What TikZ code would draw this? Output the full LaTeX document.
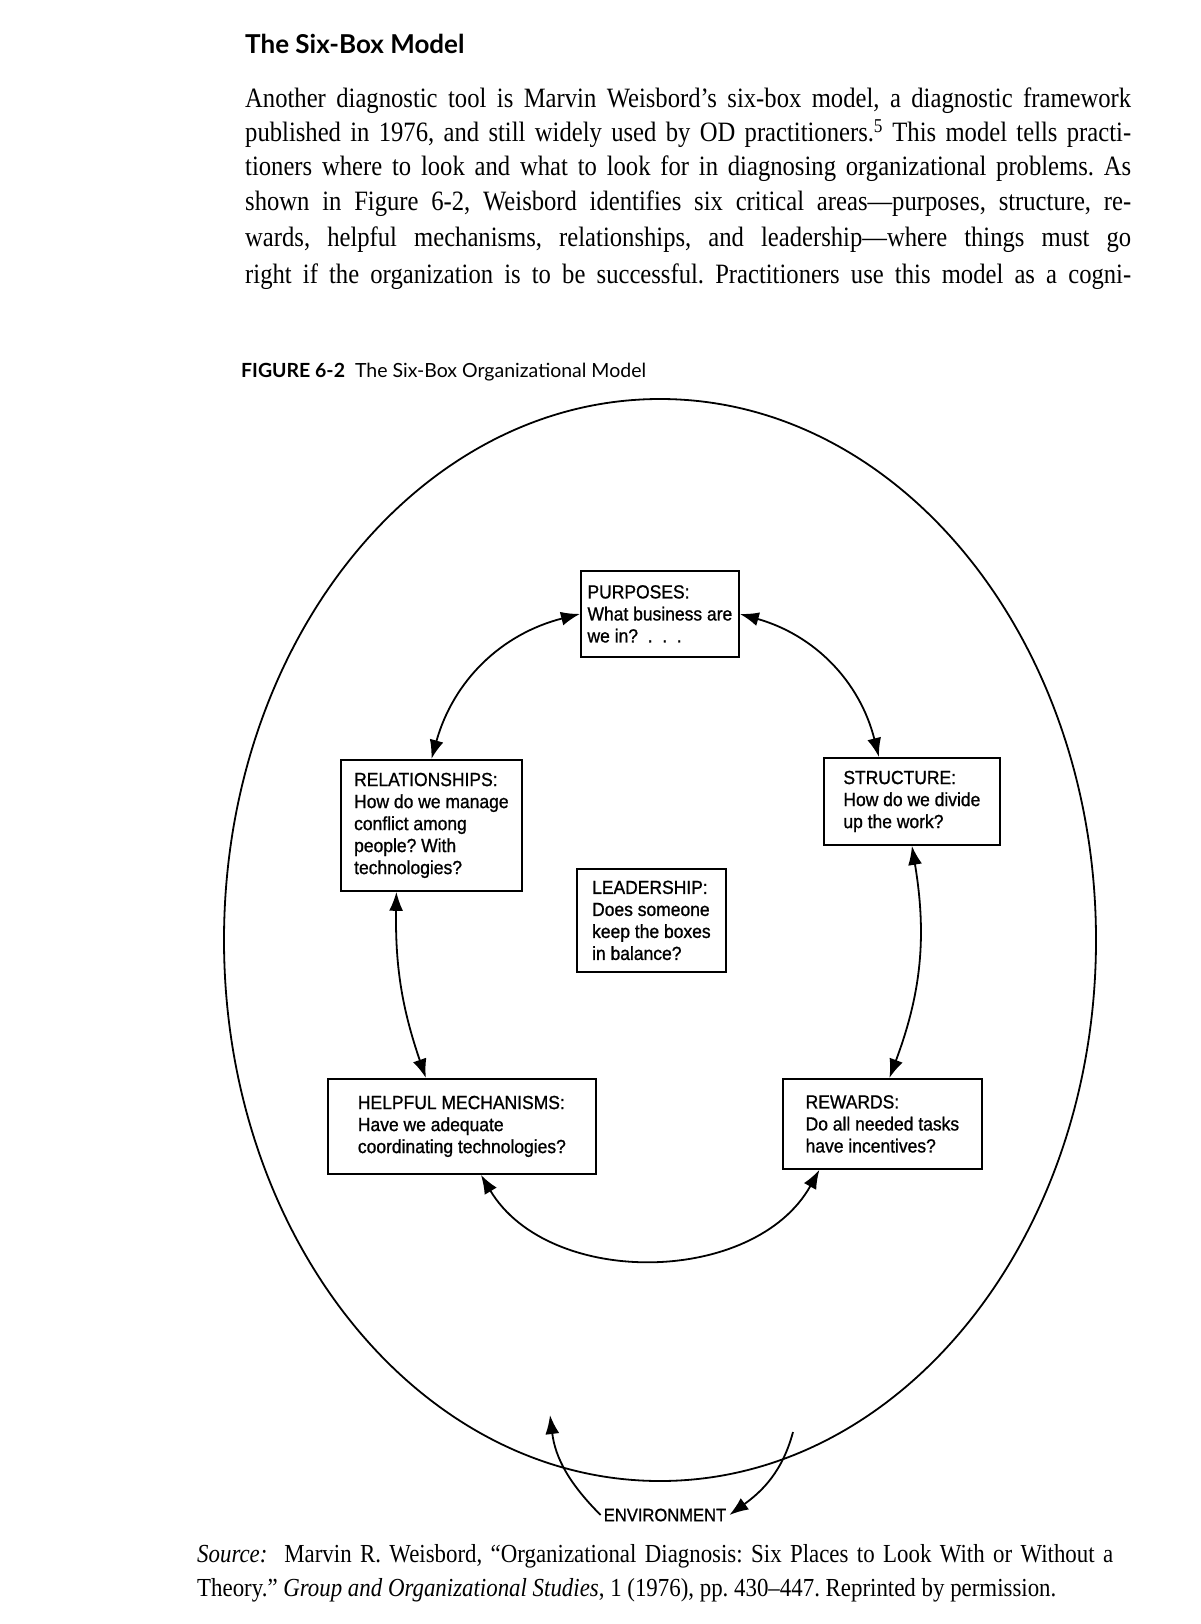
\documentclass[tikz,border=0pt]{standalone}
\usepackage{fontspec}
\setmainfont{Liberation Serif}[FakeStretch=0.88]
\newfontfamily\boxfont{Liberation Sans}[FakeStretch=0.92, FakeBold=1]
\newfontfamily\headfont{Lato}
\usetikzlibrary{arrows.meta}

\newcommand{\bodywidth}{886pt}
\frenchspacing

\tikzset{
  sixbox/.style={draw, line width=1.8pt, anchor=north west, align=left,
    inner sep=0pt, font={\boxfont\fontsize{19}{22}\selectfont}},
  bodyline/.style={anchor=base west, inner sep=0pt,
    font={\fontsize{28}{32}\selectfont}},
  twoway/.style={line width=1.8pt,
    {Latex[length=19pt,width=14pt]}-{Latex[length=19pt,width=14pt]}},
  oneway/.style={line width=1.8pt, -{Latex[length=19pt,width=14pt]}},
}

\begin{document}
\begin{tikzpicture}[x=1pt, y=-1pt]

\useasboundingbox [fill=white] (0,0) rectangle (1200,1624);

\node [anchor=base west, inner sep=0pt, font={\headfont\bfseries\fontsize{26}{30}\selectfont}] (title) at (245,54) {The Six-Box Model};

\node [bodyline] (line1) at (245,108) {\makebox[\bodywidth][s]{Another diagnostic tool is Marvin Weisbord’s six-box model, a diagnostic framework}};
\node [bodyline] (line2) at (245,142) {\makebox[\bodywidth][s]{published in 1976, and still widely used by OD practitioners.\textsuperscript{5} This model tells practi-}};
\node [bodyline] (line3) at (245,176) {\makebox[\bodywidth][s]{tioners where to look and what to look for in diagnosing organizational problems. As}};
\node [bodyline] (line4) at (245,211) {\makebox[\bodywidth][s]{shown in Figure 6-2, Weisbord identifies six critical areas—purposes, structure, re-}};
\node [bodyline] (line5) at (245,246) {\makebox[\bodywidth][s]{wards, helpful mechanisms, relationships, and leadership—where things must go}};
\node [bodyline] (line6) at (245,283) {\makebox[\bodywidth][s]{right if the organization is to be successful. Practitioners use this model as a cogni-}};

\node [anchor=base west, inner sep=0pt, font={\headfont\fontsize{19.5}{22}\selectfont}] (figcap) at (241,377) {\textbf{FIGURE 6-2}\ \ The Six-Box Organizational Model};

\draw [line width=1.8pt] (660,940) ellipse [x radius=436pt, y radius=541pt];

\node [sixbox, minimum width=158pt, minimum height=86pt] (purposes) at (580,570) {PURPOSES:\\What business are\\we in?\ \ .\ \ .\ \ .};

\node [sixbox, minimum width=181pt, minimum height=131pt] (relationships) at (340,759) {RELATIONSHIPS:\\How do we manage\\conflict among\\people? With\\technologies?};

\node [sixbox, minimum width=176pt, minimum height=87pt] (structure) at (823,757) {STRUCTURE:\\How do we divide\\up the work?};

\node [sixbox, minimum width=149pt, minimum height=103pt] (leadership) at (576,868) {LEADERSHIP:\\Does someone\\keep the boxes\\in balance?};

\node [sixbox, minimum width=268pt, minimum height=95pt] (mechanisms) at (327,1078) {HELPFUL MECHANISMS:\\Have we adequate\\coordinating technologies?};

\node [sixbox, minimum width=199pt, minimum height=90pt] (rewards) at (782,1078) {REWARDS:\\Do all needed tasks\\have incentives?};

\draw [twoway] (purposes.west) to[bend right=30] (relationships.north);
\draw [twoway] (purposes.east) to[bend left=30] ([xshift=-33pt]structure.north);
\draw [twoway] ([xshift=-35pt]relationships.south) to[bend right=10] ([xshift=-36pt]mechanisms.north);
\draw [twoway] (structure.south) to[bend left=15] ([xshift=7pt]rewards.north);
\draw [twoway] ([xshift=19pt]mechanisms.south) to[bend right=60] ([xshift=-63pt]rewards.south);

\node [inner sep=3pt, font={\boxfont\fontsize{18}{20}\selectfont}] (env) at (665,1515) {ENVIRONMENT};
\coordinate (envup) at (550,1415);
\coordinate (envdown) at (793,1432);
\draw [oneway] (env.west) to[out=135, in=-83] (envup);
\draw [oneway] (envdown) to[out=-105, in=36] (env.east);

\node [bodyline, font={\fontsize{26}{30}\selectfont}] (source1) at (197,1562) {\makebox[916pt][s]{\textit{Source:}\ \ Marvin R. Weisbord, “Organizational Diagnosis: Six Places to Look With or Without a}};
\node [bodyline, font={\fontsize{26}{30}\selectfont}] (source2) at (197,1596) {Theory.” \textit{Group and Organizational Studies}, 1 (1976), pp. 430–447. Reprinted by permission.};

\end{tikzpicture}
\end{document}
